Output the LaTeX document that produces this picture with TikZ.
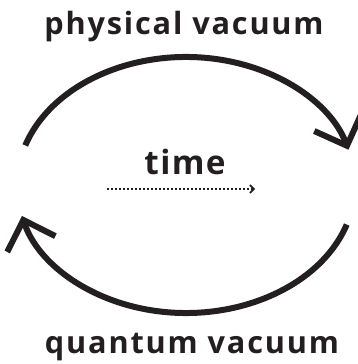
\documentclass[tikz,border=0pt]{standalone}
\usepackage{fontspec}
\setmainfont{Open Sans}
\newfontfamily\vacfont{Open Sans}[LetterSpace=6]
\newfontfamily\timefont{Open Sans}[LetterSpace=4]
\usepackage{tikz}
\usetikzlibrary{arrows.meta}
\definecolor{vInk}{RGB}{35,31,32}

\begin{document}
\begin{tikzpicture}[
  x=0.75pt,y=0.75pt,
  lbl/.style={
    text=vInk,
    inner sep=0pt,
    anchor=base,
    font=\vacfont\bfseries\fontsize{23}{26}\selectfont
  },
  cyc/.style={
    draw=vInk,
    line width=4.5pt,
    -{Straight Barb[length=19pt,width=38pt]}
  },
  tdir/.style={
    draw=vInk,
    line width=1.2pt,
    dash pattern=on 1.2pt off 1.8pt,
    -{Straight Barb[length=3pt,width=6pt]}
  }
  ]
  \useasboundingbox (0,0) rectangle (357,364);
  \coordinate (mid) at (186,179);
  \node[lbl] (phys) at (184,329) {physical vacuum};
  \node[lbl] (quant) at (192,11) {quantum vacuum};
  \node[lbl,font=\timefont\bfseries\fontsize{25}{28}\selectfont] (time) at (185,189) {time};
  \coordinate (t0) at ([shift={(-78,-14)}]time.base);
  \coordinate (t1) at ([shift={(70,-14)}]time.base);
  \coordinate (upA) at ([shift={(162:169 and 128)}]mid);
  \coordinate (loA) at ([shift={(-18:169 and 128)}]mid);
  % the two halves of the cycle
  \draw[cyc] (upA) arc[start angle=162, end angle=16, x radius=169, y radius=128];
  \draw[cyc] (loA) arc[start angle=-18, end angle=-166, x radius=169, y radius=128];
  \draw[tdir] (t0) -- (t1);
\end{tikzpicture}
\end{document}
